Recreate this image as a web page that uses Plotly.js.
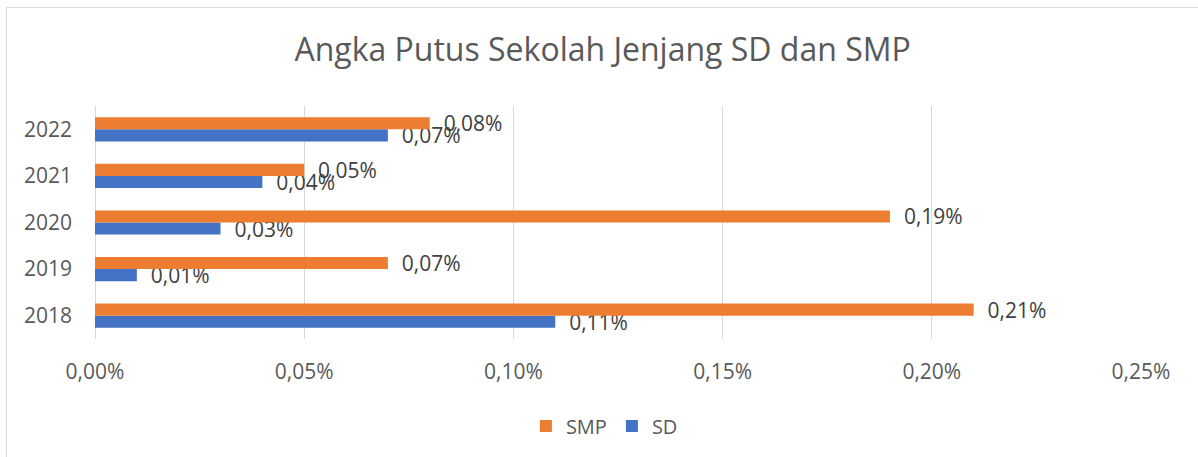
<!DOCTYPE html>
<html>
<head>
<meta charset="utf-8">
<script src="https://cdn.plot.ly/plotly-3.0.1.min.js"></script>
<style>
  html, body { margin: 0; padding: 0; background: #ffffff; }
  body { width: 1198px; height: 457px; overflow: hidden; position: relative; }
  #frame { position: absolute; left: 6px; top: 7px; width: 1300px; height: 600px;
           border-left: 1px solid #d9d9d9; border-top: 1px solid #d9d9d9; }
  #chart { position: absolute; left: 0; top: 0; width: 1198px; height: 457px; }
</style>
</head>
<body>
<div id="frame"></div>
<div id="chart"></div>
<script>
const years = ['2018', '2019', '2020', '2021', '2022'];
const sdValues = [0.0011, 0.0001, 0.0003, 0.0004, 0.0007];
const smpValues = [0.0021, 0.0007, 0.0019, 0.0005, 0.0008];
const xTickValues = [0, 0.0005, 0.001, 0.0015, 0.002, 0.0025];

const fontFamily = '"Open Sans", "Noto Sans", sans-serif';
const labelTemplate = '\u00a0\u00a0%{x:.2%}';

const sd = {
  type: 'bar', orientation: 'h', name: 'SD',
  y: years, x: sdValues,
  marker: { color: '#4472C4' },
  texttemplate: labelTemplate, textposition: 'outside',
  constraintext: 'none', cliponaxis: false,
  textfont: { family: fontFamily, size: 21, color: '#404040' },
  hoverinfo: 'skip'
};
const smp = {
  type: 'bar', orientation: 'h', name: 'SMP',
  y: years, x: smpValues,
  marker: { color: '#ED7D31' },
  texttemplate: labelTemplate, textposition: 'outside',
  constraintext: 'none', cliponaxis: false,
  textfont: { family: fontFamily, size: 21, color: '#404040' },
  hoverinfo: 'skip'
};

const layout = {
  width: 1198, height: 457,
  paper_bgcolor: 'rgba(0,0,0,0)', plot_bgcolor: 'rgba(0,0,0,0)',
  separators: ',.',
  margin: { l: 95, r: 57, t: 106, b: 118, pad: 0 },
  font: { family: fontFamily, color: '#595959' },
  title: {
    text: 'Angka Putus Sekolah Jenjang SD dan SMP',
    font: { family: fontFamily, size: 32, color: '#595959' },
    x: 0.503, xanchor: 'center', y: 0.89, yanchor: 'middle'
  },
  barmode: 'group', bargap: 0.48, bargroupgap: 0,
  xaxis: {
    range: [0, 0.0025], tickvals: xTickValues, tickformat: '.2%',
    showgrid: true, gridcolor: '#d9d9d9', gridwidth: 1,
    zeroline: true, zerolinecolor: '#d9d9d9', zerolinewidth: 1,
    showline: false, ticks: '', ticklabelstandoff: 18,
    tickfont: { family: fontFamily, size: 21, color: '#595959' },
    fixedrange: true
  },
  yaxis: {
    type: 'category', categoryorder: 'array', categoryarray: years,
    showgrid: false, zeroline: false, showline: false, ticks: '',
    ticklabelstandoff: 22,
    tickfont: { family: fontFamily, size: 21, color: '#595959' },
    fixedrange: true
  },
  showlegend: true,
  legend: {
    orientation: 'h', x: 0.487, xanchor: 'center', y: -0.29, yanchor: 'top',
    traceorder: 'reversed',
    font: { family: fontFamily, size: 20, color: '#595959' },
    itemwidth: 30, bgcolor: 'rgba(0,0,0,0)'
  }
};

Plotly.newPlot('chart', [sd, smp], layout, { displayModeBar: false, staticPlot: true });
</script>
</body>
</html>
